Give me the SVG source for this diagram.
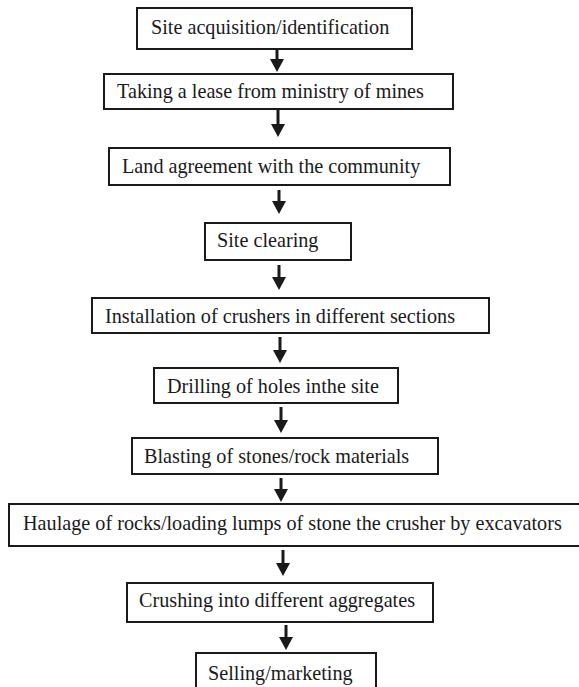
<svg xmlns="http://www.w3.org/2000/svg" width="579" height="687" viewBox="0 0 579 687">
<style>
.box{fill:#fff;stroke:#1a1a1a;stroke-width:2}
.lbl{font-family:"Liberation Serif","Times New Roman",serif;font-size:20.2px;fill:#1a1a1a}
.arr{stroke:#1a1a1a;stroke-width:3;fill:none;marker-end:url(#ah)}
</style>
<defs>
<marker id="ah" markerUnits="userSpaceOnUse" markerWidth="13" markerHeight="14" viewBox="0 0 13 14" refX="1" refY="7" orient="auto">
<path d="M0,0 L13,7 L0,14 Z" fill="#1a1a1a"/>
</marker>
</defs>
<rect width="579" height="687" fill="#fff"/>
<g id="connectors">
<line class="arr" x1="277" y1="49" x2="277" y2="60"/>
<line class="arr" x1="278" y1="109" x2="278" y2="125"/>
<line class="arr" x1="279" y1="190" x2="279" y2="202"/>
<line class="arr" x1="279" y1="265" x2="279" y2="278"/>
<line class="arr" x1="280" y1="337" x2="280" y2="351"/>
<line class="arr" x1="281" y1="407" x2="281" y2="421"/>
<line class="arr" x1="281" y1="478" x2="281" y2="490"/>
<line class="arr" x1="283" y1="550" x2="283" y2="564"/>
<line class="arr" x1="286" y1="625" x2="286" y2="638"/>
</g>
<g id="n1"><rect class="box" x="137" y="8" width="275" height="41"/><text class="lbl" x="151" y="34">Site acquisition/identification</text></g>
<g id="n2"><rect class="box" x="104" y="74" width="349" height="35"/><text class="lbl" x="117" y="98">Taking a lease from ministry of mines</text></g>
<g id="n3"><rect class="box" x="109" y="148" width="341" height="37"/><text class="lbl" x="122" y="173">Land agreement with the community</text></g>
<g id="n4"><rect class="box" x="205" y="223" width="146" height="37"/><text class="lbl" x="217" y="247">Site clearing</text></g>
<g id="n5"><rect class="box" x="92" y="298" width="397" height="35"/><text class="lbl" x="105" y="323">Installation of crushers in different sections</text></g>
<g id="n6"><rect class="box" x="154" y="368" width="244" height="35"/><text class="lbl" x="167" y="393">Drilling of holes inthe site</text></g>
<g id="n7"><rect class="box" x="132" y="438" width="306" height="36"/><text class="lbl" x="144" y="463">Blasting of stones/rock materials</text></g>
<g id="n8"><rect class="box" x="9" y="504" width="590" height="42"/><text class="lbl" x="23" y="530">Haulage of rocks/loading lumps of stone the crusher by excavators</text></g>
<g id="n9"><rect class="box" x="127" y="583" width="306" height="39"/><text class="lbl" x="139" y="607">Crushing into different aggregates</text></g>
<g id="n10"><rect class="box" x="196" y="653" width="180" height="60"/><text class="lbl" x="208" y="680">Selling/marketing</text></g>
</svg>
